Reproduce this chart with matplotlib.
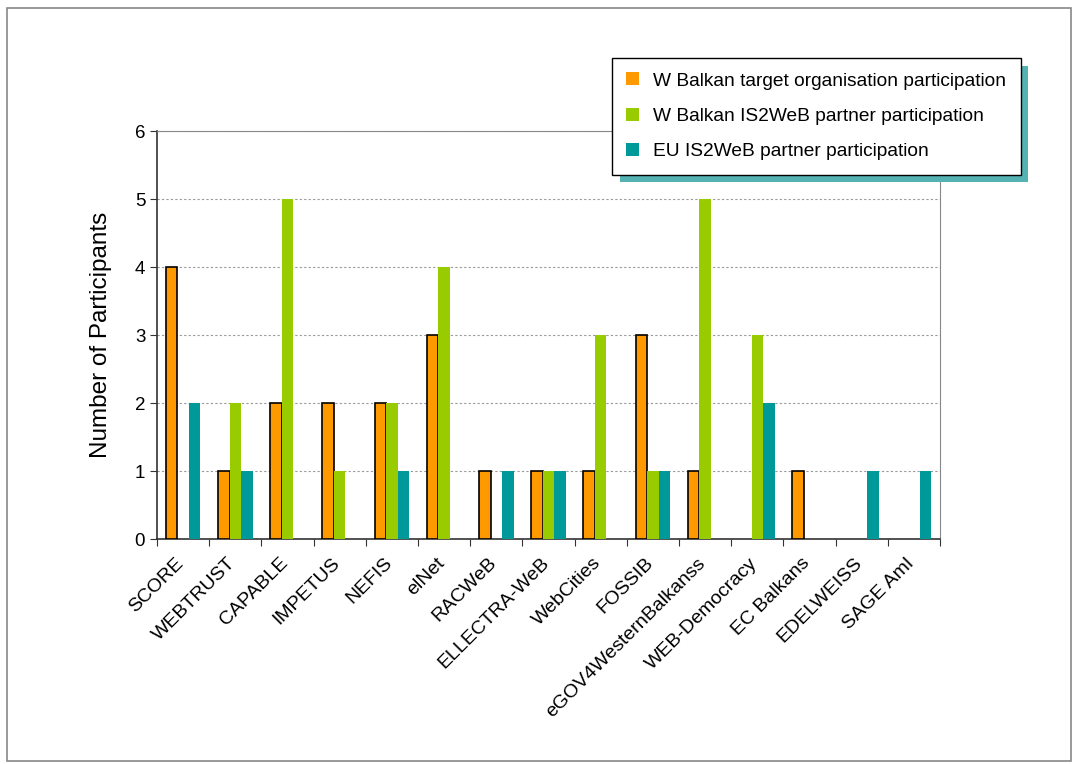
import numpy as np
import matplotlib.pyplot as plt
import matplotlib.transforms as mtransforms
from matplotlib.patches import Rectangle, Patch

plt.rcParams['font.family'] = ['Liberation Sans', 'DejaVu Sans']

projects = ['SCORE', 'WEBTRUST', 'CAPABLE', 'IMPETUS', 'NEFIS', 'elNet', 'RACWeB',
            'ELLECTRA-WeB', 'WebCities', 'FOSSIB', 'eGOV4WesternBalkanss',
            'WEB-Democracy', 'EC Balkans', 'EDELWEISS', 'SAGE AmI']
target_org = [4, 1, 2, 2, 2, 3, 1, 1, 1, 3, 1, 0, 1, 0, 0]
wb_partner = [0, 2, 5, 1, 2, 4, 0, 1, 3, 1, 5, 3, 0, 0, 0]
eu_partner = [2, 1, 0, 0, 1, 0, 1, 1, 0, 1, 0, 2, 0, 1, 1]

series_labels = ['W Balkan target organisation participation',
                 'W Balkan IS2WeB partner participation',
                 'EU IS2WeB partner participation']
colors = ['#FF9900', '#99CC00', '#009999']

fig = plt.figure(figsize=(10.77, 7.64), dpi=100)
# outer frame of the figure
fig.patches.append(Rectangle((7 / 1077, 3 / 764), 1064 / 1077, 753 / 764,
                             transform=fig.transFigure, fill=False,
                             edgecolor='#888888', linewidth=1.2))

ax = fig.add_axes([0.1458, 0.2945, 0.7270, 0.5340])

x = np.arange(len(projects))
w = 0.22
offsets = [-w, 0, w]
for vals, off, col in zip([target_org, wb_partner, eu_partner], offsets, colors):
    vals = np.array(vals)
    keep = vals > 0  # empty bars are not drawn at all
    ec = 'black' if col == colors[0] else 'none'
    ax.bar(x[keep] + off, vals[keep], w, color=col, edgecolor=ec,
           linewidth=1.2, zorder=3)

ax.set_xlim(-0.5, len(projects) - 0.5)
ax.set_ylim(0, 6)
ax.set_yticks(range(7))
ax.yaxis.grid(True, linestyle=(0, (2, 2)), color='#999999', linewidth=0.8, zorder=0)
ax.tick_params(axis='y', labelsize=13.5, length=5, direction='out', color='#333333')

# ticks between categories, labels at category centers
ax.set_xticks(np.arange(len(projects) + 1) - 0.5)
ax.set_xticklabels([])
ax.set_xticks(x, minor=True)
ax.set_xticklabels(projects, minor=True, rotation=45, ha='right',
                   rotation_mode='anchor', fontsize=14)
ax.tick_params(axis='x', which='major', length=5, direction='out', color='#333333')
ax.tick_params(axis='x', which='minor', length=0, pad=9)
# nudge rotated labels so their end sits under the category center
shift = mtransforms.ScaledTranslation(-0.08, -0.03, fig.dpi_scale_trans)
for lbl in ax.get_xticklabels(minor=True):
    lbl.set_transform(lbl.get_transform() + shift)

for side in ['top', 'right']:
    ax.spines[side].set_color('#888888')
for side in ['left', 'bottom']:
    ax.spines[side].set_color('#333333')
    ax.spines[side].set_linewidth(1.2)

ax.set_ylabel('Number of Participants', fontsize=17.5, labelpad=16)

handles = [Patch(facecolor=c, edgecolor='none') for c in colors]
leg = fig.legend(handles, series_labels, loc='upper left',
                 bbox_to_anchor=(612 / 1077, 1 - 58 / 764),
                 fontsize=13.8, frameon=True, fancybox=False, handlelength=0.65,
                 handleheight=0.65, handletextpad=0.75, labelspacing=0.95,
                 borderpad=0.75, borderaxespad=0, edgecolor='black',
                 shadow={'ox': 5.5, 'oy': -5.5, 'facecolor': '#55B2B2',
                         'edgecolor': 'none', 'alpha': 1.0})
leg.get_frame().set_linewidth(1.0)

fig.savefig('out.png', dpi=100)
